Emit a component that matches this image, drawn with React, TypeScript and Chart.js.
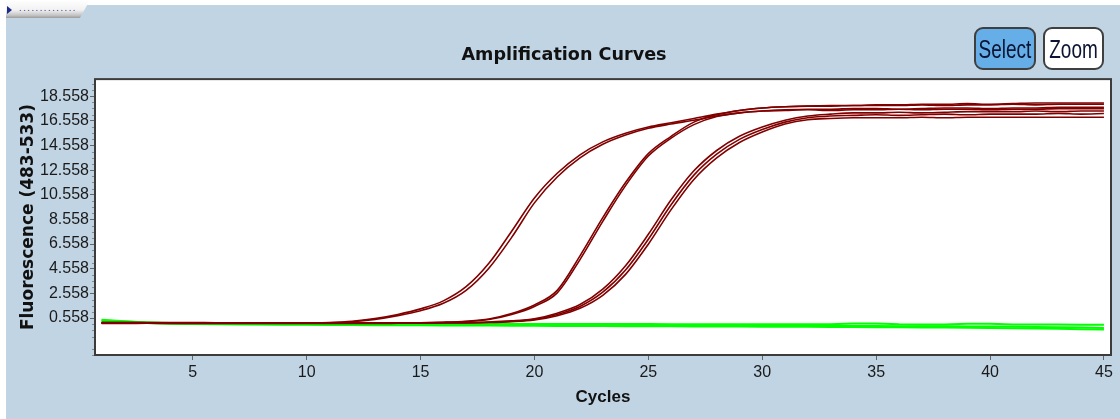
import React, { useEffect, useRef } from "react";
import { Chart, registerables } from "chart.js";

Chart.register(...registerables);

// ---------- data ----------
const cycles = [
  1, 2, 3, 4, 5, 6, 7, 8, 9, 10, 11, 12, 13, 14, 15, 16, 17, 18, 19, 20, 21, 22, 23,
  24, 25, 26, 27, 28, 29, 30, 31, 32, 33, 34, 35, 36, 37, 38, 39, 40, 41, 42, 43, 44, 45,
];

const yTickValues = [0.558, 2.558, 4.558, 6.558, 8.558, 10.558, 12.558, 14.558, 16.558, 18.558];
const xTickValues = [5, 10, 15, 20, 25, 30, 35, 40, 45];

const sampleLeftA = [
  0.18, 0.17, 0.17, 0.16, 0.16, 0.16, 0.15, 0.15, 0.16, 0.17,
  0.2, 0.3, 0.52, 0.85, 1.3, 1.95, 3.1, 5.0, 7.6, 10.3,
  12.3, 13.8, 14.85, 15.55, 16.05, 16.4, 16.75, 17.1, 17.4, 17.6,
  17.7, 17.75, 17.8, 17.8, 17.85, 17.85, 17.9, 17.9, 17.95, 17.9,
  17.95, 18.0, 18.0, 18.0, 18.0,
];
const sampleLeftB = [
  0.14, 0.14, 0.15, 0.15, 0.14, 0.14, 0.15, 0.15, 0.15, 0.16,
  0.18, 0.26, 0.45, 0.75, 1.15, 1.75, 2.8, 4.6, 7.1, 9.9,
  12.0, 13.55, 14.65, 15.4, 15.95, 16.3, 16.6, 16.95, 17.2, 17.35,
  17.45, 17.5, 17.5, 17.55, 17.55, 17.5, 17.55, 17.6, 17.6, 17.55,
  17.6, 17.6, 17.65, 17.65, 17.65,
];
const sampleMidA = [
  0.2, 0.19, 0.18, 0.18, 0.17, 0.17, 0.17, 0.16, 0.16, 0.16,
  0.16, 0.16, 0.16, 0.17, 0.18, 0.22, 0.3, 0.48, 0.92, 1.62,
  2.8, 5.6, 8.7, 11.55, 13.9, 15.3, 16.45, 17.05, 17.4, 17.6,
  17.7, 17.75, 17.75, 17.8, 17.8, 17.8, 17.85, 17.8, 17.85, 17.85,
  17.9, 17.85, 17.9, 17.9, 17.9,
];
const sampleMidB = [
  0.12, 0.12, 0.13, 0.13, 0.13, 0.13, 0.13, 0.14, 0.14, 0.14,
  0.14, 0.14, 0.14, 0.15, 0.16, 0.2, 0.27, 0.44, 0.85, 1.5,
  2.6, 5.3, 8.4, 11.3, 13.7, 15.15, 16.25, 16.9, 17.2, 17.35,
  17.4, 17.45, 17.4, 17.45, 17.45, 17.5, 17.45, 17.5, 17.5, 17.45,
  17.5, 17.5, 17.55, 17.55, 17.55,
];
const sampleRightA = [
  0.2, 0.2, 0.19, 0.19, 0.19, 0.18, 0.18, 0.18, 0.18, 0.18,
  0.18, 0.18, 0.18, 0.18, 0.18, 0.19, 0.2, 0.24, 0.33, 0.5,
  0.95, 1.65, 2.9, 4.8, 7.35, 10.15, 12.5, 14.15, 15.3, 16.05,
  16.6, 16.95, 17.1, 17.2, 17.2, 17.25, 17.2, 17.25, 17.3, 17.3,
  17.3, 17.35, 17.3, 17.35, 17.35,
];
const sampleRightB = [
  0.16, 0.16, 0.16, 0.16, 0.15, 0.15, 0.15, 0.15, 0.15, 0.15,
  0.15, 0.15, 0.15, 0.15, 0.16, 0.17, 0.18, 0.22, 0.3, 0.45,
  0.85, 1.5, 2.65, 4.45, 6.95, 9.75, 12.15, 13.85, 15.05, 15.85,
  16.45, 16.8, 16.95, 17.0, 17.05, 17.0, 17.05, 17.1, 17.05, 17.1,
  17.1, 17.1, 17.15, 17.1, 17.15,
];
const sampleRightC = [
  0.13, 0.13, 0.13, 0.12, 0.12, 0.12, 0.12, 0.12, 0.12, 0.12,
  0.12, 0.12, 0.12, 0.13, 0.14, 0.15, 0.16, 0.19, 0.26, 0.4,
  0.75, 1.35, 2.4, 4.1, 6.55, 9.35, 11.8, 13.55, 14.8, 15.65,
  16.3, 16.65, 16.75, 16.8, 16.8, 16.8, 16.85, 16.8, 16.85, 16.85,
  16.85, 16.85, 16.85, 16.85, 16.85,
];
const negative1 = [
  0.42, 0.3, 0.2, 0.14, 0.1, 0.08, 0.07, 0.06, 0.05, 0.05,
  0.04, 0.03, 0.02, 0.02, 0.01, 0.01, 0.0, 0.0, -0.01, -0.01,
  -0.02, -0.02, -0.03, -0.03, -0.04, -0.04, -0.05, -0.05, -0.06, -0.06,
  -0.07, -0.07, -0.08, -0.08, -0.09, -0.1, -0.1, -0.11, -0.12, -0.13,
  -0.15, -0.17, -0.2, -0.22, -0.25,
];
const negative2 = [
  0.3, 0.22, 0.15, 0.1, 0.07, 0.05, 0.04, 0.03, 0.02, 0.01,
  0.0, -0.01, -0.02, -0.03, -0.03, -0.04, -0.05, -0.05, -0.06, -0.07,
  -0.08, -0.08, -0.09, -0.1, -0.1, -0.11, -0.12, -0.13, -0.13, -0.14,
  -0.15, -0.16, -0.17, -0.18, -0.19, -0.2, -0.21, -0.22, -0.24, -0.26,
  -0.28, -0.3, -0.32, -0.35, -0.38,
];
const negative3 = [
  0.36, 0.28, 0.2, 0.16, 0.14, 0.13, 0.12, 0.12, 0.11, 0.11,
  0.1, 0.1, 0.1, 0.1, 0.09, 0.09, 0.09, 0.08, 0.08, 0.08,
  0.08, 0.07, 0.07, 0.07, 0.07, 0.06, 0.06, 0.06, 0.06, 0.06,
  0.05, 0.05, 0.05, 0.12, 0.12, 0.05, 0.04, 0.04, 0.1, 0.1,
  0.04, 0.03, 0.03, 0.02, 0.02,
];

const positiveSeries = [
  sampleLeftA, sampleLeftB, sampleMidA, sampleMidB, sampleRightA, sampleRightB, sampleRightC,
];
const negativeSeries = [negative1, negative2, negative3];

// ---------- styles ----------
const PANEL_BLUE = "#C1D4E4";
const RED = "#800000";
const GREEN = "#00FF00";
const SANS = "'Liberation Sans', Arial, sans-serif";
const WIDE_BOLD = "'DejaVu Sans', Verdana, sans-serif";

const toPoints = (vals: number[]) => cycles.map((c, i) => ({ x: c, y: vals[i] }));

const framePlugin = {
  id: "plotFrame",
  beforeDraw(chart: any) {
    const { ctx, chartArea } = chart;
    ctx.save();
    ctx.fillStyle = "#ffffff";
    ctx.fillRect(chartArea.left, chartArea.top, chartArea.right - chartArea.left, chartArea.bottom - chartArea.top);
    ctx.restore();
  },
  afterDraw(chart: any) {
    const { ctx, chartArea } = chart;
    const y = chart.scales.y;
    ctx.save();
    ctx.strokeStyle = "#8a8a8a";
    ctx.lineWidth = 1;
    for (let k = -6; k <= 40; k++) {
      const v = yTickValues[0] + k * 0.5;
      if (v < y.min || v > y.max) continue;
      if (k % 4 === 0) continue;
      const py = Math.round(y.getPixelForValue(v)) + 0.5;
      ctx.beginPath();
      ctx.moveTo(chartArea.left - 3, py);
      ctx.lineTo(chartArea.left, py);
      ctx.stroke();
    }
    ctx.strokeStyle = "#3c3c3c";
    ctx.lineWidth = 2;
    ctx.strokeRect(chartArea.left, chartArea.top, chartArea.right - chartArea.left, chartArea.bottom - chartArea.top);
    ctx.restore();
  },
};

export default function App() {
  const ref = useRef<HTMLCanvasElement>(null);

  useEffect(() => {
    const canvas = ref.current;
    if (!canvas) return;
    const datasets: any[] = [];
    positiveSeries.forEach((s, i) => {
      datasets.push({
        label: "Sample " + (i + 1),
        data: toPoints(s),
        borderColor: RED,
        backgroundColor: RED,
        borderWidth: 1.6,
        pointRadius: 0,
        cubicInterpolationMode: "monotone",
        fill: false,
      });
    });
    negativeSeries.forEach((s, i) => {
      datasets.push({
        label: "Negative " + (i + 1),
        data: toPoints(s),
        borderColor: GREEN,
        backgroundColor: GREEN,
        borderWidth: 2,
        pointRadius: 0,
        tension: 0,
        fill: false,
      });
    });

    const chart = new Chart(canvas, {
      type: "line",
      data: { datasets },
      options: {
        animation: false,
        responsive: false,
        devicePixelRatio: 1,
        layout: { padding: { left: 11, right: 9, top: 0, bottom: 0 } },
        plugins: {
          legend: { display: false },
          tooltip: { enabled: false },
          title: {
            display: true,
            text: "Amplification Curves",
            color: "#111111",
            font: { family: WIDE_BOLD, size: 17.6, weight: "bold" },
            padding: { top: 40, bottom: 13 },
          },
        },
        scales: {
          x: {
            type: "linear",
            min: 0.71,
            max: 45.31,
            afterBuildTicks: (scale: any) => {
              scale.ticks = xTickValues.map((v) => ({ value: v }));
            },
            afterFit: (scale: any) => {
              scale.height = 64;
            },
            ticks: {
              color: "#1a1a1a",
              font: { family: SANS, size: 16 },
              padding: 3,
              maxRotation: 0,
              autoSkip: false,
            },
            grid: {
              display: true,
              drawOnChartArea: false,
              drawTicks: true,
              tickLength: 5,
              color: "#666666",
            },
            border: { display: false },
            title: {
              display: true,
              text: "Cycles",
              color: "#111111",
              font: { family: SANS, size: 17, weight: "bold" },
              padding: { top: 0, bottom: 11 },
            },
          },
          y: {
            type: "linear",
            min: -2.442,
            max: 19.94,
            afterBuildTicks: (scale: any) => {
              scale.ticks = yTickValues.map((v) => ({ value: v }));
            },
            afterFit: (scale: any) => {
              scale.width = 78;
            },
            ticks: {
              color: "#1a1a1a",
              font: { family: SANS, size: 16 },
              padding: 1,
              autoSkip: false,
              callback: (v: any) => Number(v).toFixed(3),
            },
            grid: {
              display: true,
              drawOnChartArea: false,
              drawTicks: true,
              tickLength: 5,
              color: "#666666",
            },
            border: { display: false },
            title: {
              display: true,
              text: "Fluorescence (483-533)",
              color: "#111111",
              font: { family: WIDE_BOLD, size: 17, weight: "bold" },
              padding: { top: 1, bottom: 0 },
            },
          },
        },
      } as any,
      plugins: [framePlugin],
    });
    return () => chart.destroy();
  }, []);

  const btnBase: React.CSSProperties = {
    position: "absolute",
    top: 27,
    height: 43,
    boxSizing: "border-box",
    border: "2px solid #3f3f3f",
    borderRadius: 9,
    display: "flex",
    alignItems: "center",
    justifyContent: "center",
    fontFamily: SANS,
    fontSize: 19,
    color: "#0b1533",
    lineHeight: 1,
  };

  return (
    <div
      style={{
        position: "fixed",
        left: 0,
        top: 0,
        width: 1120,
        height: 419,
        background: "#ffffff",
        overflow: "hidden",
      }}
    >
      <div style={{ position: "absolute", left: 6, top: 5, width: 1114, height: 414, background: PANEL_BLUE }} />
      <div
        style={{
          position: "absolute",
          left: 6,
          top: 0,
          width: 84,
          height: 18,
          background: "linear-gradient(to bottom, #ffffff 0%, #f2f2f2 55%, #c4c4c4 85%, #9a9a9a 100%)",
          clipPath: "polygon(0 0, 100% 0, 88% 100%, 0 100%)",
        }}
      />
      <div
        style={{
          position: "absolute",
          left: 7,
          top: 6,
          width: 0,
          height: 0,
          borderTop: "4px solid transparent",
          borderBottom: "4px solid transparent",
          borderLeft: "5px solid #1b2a8a",
        }}
      />
      <div
        style={{
          position: "absolute",
          left: 19,
          top: 4,
          fontFamily: "'DejaVu Sans', sans-serif",
          fontSize: 8,
          letterSpacing: 1.6,
          color: "#1b2a8a",
          lineHeight: "10px",
        }}
      >
        ..............
      </div>
      <canvas
        ref={ref}
        width={1114}
        height={414}
        style={{ position: "absolute", left: 6, top: 5, width: 1114, height: 414 }}
      />
      <div style={{ ...btnBase, left: 974, width: 62, background: "#66AEE8" }}>
        <span style={{ display: "inline-block", transform: "scaleY(1.4)" }}>Select</span>
      </div>
      <div style={{ ...btnBase, left: 1043, width: 61, background: "#ffffff" }}>
        <span style={{ display: "inline-block", transform: "scaleY(1.4)" }}>Zoom</span>
      </div>
    </div>
  );
}
